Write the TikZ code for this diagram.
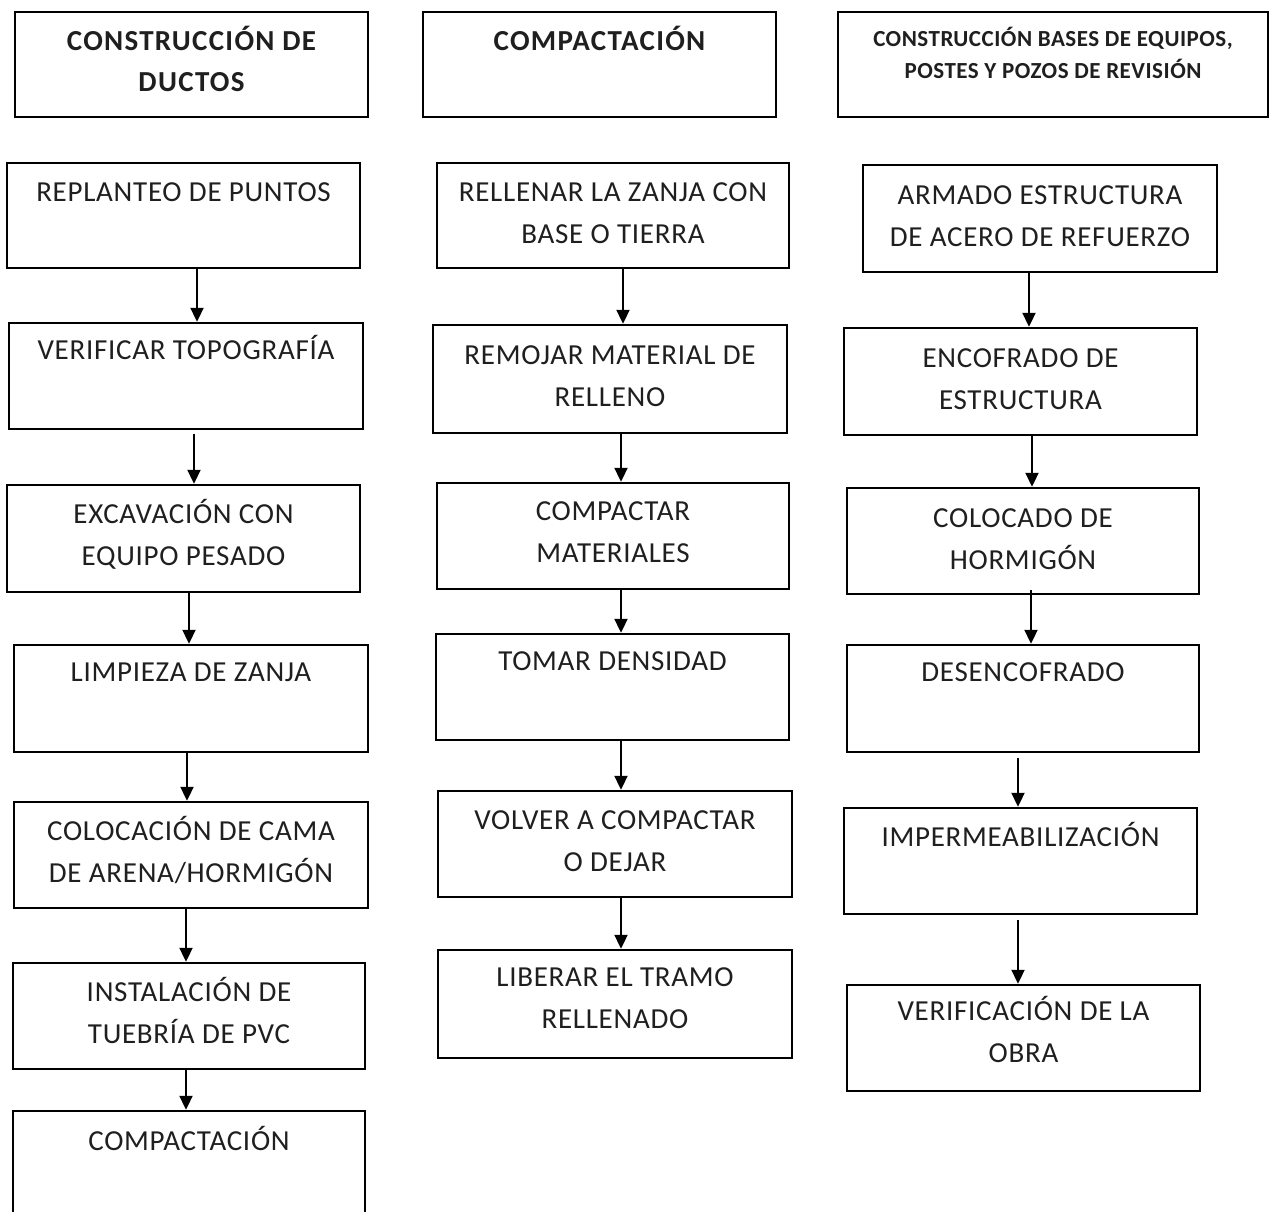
\documentclass[tikz,border=0pt]{standalone}
\usepackage{fontspec}
\setmainfont{Carlito}
\newfontfamily\stepfont{Carlito}[LetterSpace=2.5]
\newfontfamily\titlefont{Carlito}[LetterSpace=4.5]
\newfontfamily\smalltitlefont{Carlito}[LetterSpace=2.2]
\usetikzlibrary{arrows.meta}
\begin{document}
\begin{tikzpicture}[x=1pt,y=-1pt,
  stepbox/.style={draw=black, line width=2.4pt, rectangle, inner sep=0pt},
  boxtext/.style={anchor=base, align=center, inner sep=0pt, text=black!88,
    font=\stepfont\fontsize{29}{42}\selectfont},
  headtext/.style={boxtext, font=\titlefont\fontsize{29}{41}\selectfont\bfseries},
  smallhead/.style={boxtext, font=\smalltitlefont\fontsize{23}{32}\selectfont\bfseries},
  flow/.style={line width=2pt, -{Triangle[width=13pt,length=14pt]}}]
\useasboundingbox[fill=white] (0,0) rectangle (1269,1212);

% ---------- column 1: ductos ----------
\node[stepbox, minimum width=353, minimum height=105] (h1) at (191.5,64.5) {};
\node[headtext] at ([shift={(0,81)}]h1.north) {CONSTRUCCIÓN DE\\DUCTOS};
\node[stepbox, minimum width=353, minimum height=105] (a1) at (183.5,215.5) {};
\node[boxtext] at ([shift={(0,40)}]a1.north) {REPLANTEO DE PUNTOS};
\node[stepbox, minimum width=354, minimum height=106] (a2) at (186,376) {};
\node[boxtext] at ([shift={(0,38)}]a2.north) {VERIFICAR TOPOGRAFÍA};
\node[stepbox, minimum width=353, minimum height=107] (a3) at (183.5,538.5) {};
\node[boxtext] at ([shift={(0,82)}]a3.north) {EXCAVACIÓN CON\\EQUIPO PESADO};
\node[stepbox, minimum width=354, minimum height=107] (a4) at (191,698.5) {};
\node[boxtext] at ([shift={(0,38)}]a4.north) {LIMPIEZA DE ZANJA};
\node[stepbox, minimum width=354, minimum height=106] (a5) at (191,855) {};
\node[boxtext] at ([shift={(0,82)}]a5.north) {COLOCACIÓN DE CAMA\\DE ARENA/HORMIGÓN};
\node[stepbox, minimum width=352, minimum height=106] (a6) at (189,1016) {};
\node[boxtext] at ([shift={(0,82)}]a6.north) {INSTALACIÓN DE\\TUEBRÍA DE PVC};
\node[stepbox, minimum width=352, minimum height=107] (a7) at (189,1164.5) {};
\node[boxtext] at ([shift={(0,41)}]a7.north) {COMPACTACIÓN};

\draw[flow] ([shift={(13.5,0)}]a1.south) -- ([shift={(11,0)}]a2.north);
\draw[flow] ([shift={(8,4)}]a2.south) -- ([shift={(10.5,0)}]a3.north);
\draw[flow] ([shift={(5.5,0)}]a3.south) -- ([shift={(-2,0)}]a4.north);
\draw[flow] ([shift={(-4,0)}]a4.south) -- ([shift={(-4,0)}]a5.north);
\draw[flow] ([shift={(-5,0)}]a5.south) -- ([shift={(-3,0)}]a6.north);
\draw[flow] ([shift={(-3,0)}]a6.south) -- ([shift={(-3,0)}]a7.north);

% ---------- column 2: compactación ----------
\node[stepbox, minimum width=353, minimum height=105] (h2) at (599.5,64.5) {};
\node[headtext] at ([shift={(0,40)}]h2.north) {COMPACTACIÓN};
\node[stepbox, minimum width=352, minimum height=105] (b1) at (613,215.5) {};
\node[boxtext] at ([shift={(0,82)}]b1.north) {RELLENAR LA ZANJA CON\\BASE O TIERRA};
\node[stepbox, minimum width=354, minimum height=108] (b2) at (610,379) {};
\node[boxtext] at ([shift={(0,83)}]b2.north) {REMOJAR MATERIAL DE\\RELLENO};
\node[stepbox, minimum width=352, minimum height=106] (b3) at (613,536) {};
\node[boxtext] at ([shift={(0,81)}]b3.north) {COMPACTAR\\MATERIALES};
\node[stepbox, minimum width=353, minimum height=106] (b4) at (612.5,687) {};
\node[boxtext] at ([shift={(0,38)}]b4.north) {TOMAR DENSIDAD};
\node[stepbox, minimum width=354, minimum height=106] (b5) at (615,844) {};
\node[boxtext] at ([shift={(0,82)}]b5.north) {VOLVER A COMPACTAR\\O DEJAR};
\node[stepbox, minimum width=354, minimum height=108] (b6) at (615,1004) {};
\node[boxtext] at ([shift={(0,80)}]b6.north) {LIBERAR EL TRAMO\\RELLENADO};

\draw[flow] ([shift={(10,0)}]b1.south) -- ([shift={(13,0)}]b2.north);
\draw[flow] ([shift={(11,0)}]b2.south) -- ([shift={(8,0)}]b3.north);
\draw[flow] ([shift={(8,0)}]b3.south) -- ([shift={(8.5,0)}]b4.north);
\draw[flow] ([shift={(8.5,0)}]b4.south) -- ([shift={(6,0)}]b5.north);
\draw[flow] ([shift={(6,0)}]b5.south) -- ([shift={(6,0)}]b6.north);

% ---------- column 3: bases, postes y pozos ----------
\node[stepbox, minimum width=430, minimum height=105] (h3) at (1053,64.5) {};
\node[smallhead] at ([shift={(0,68)}]h3.north) {CONSTRUCCIÓN BASES DE EQUIPOS,\\POSTES Y POZOS DE REVISIÓN};
\node[stepbox, minimum width=354, minimum height=107] (c1) at (1040,218.5) {};
\node[boxtext] at ([shift={(0,83)}]c1.north) {ARMADO ESTRUCTURA\\DE ACERO DE REFUERZO};
\node[stepbox, minimum width=353, minimum height=107] (c2) at (1020.5,381.5) {};
\node[boxtext] at ([shift={(0,83)}]c2.north) {ENCOFRADO DE\\ESTRUCTURA};
\node[stepbox, minimum width=352, minimum height=106] (c3) at (1023,541) {};
\node[boxtext] at ([shift={(0,82.5)}]c3.north) {COLOCADO DE\\HORMIGÓN};
\node[stepbox, minimum width=352, minimum height=107] (c4) at (1023,698.5) {};
\node[boxtext] at ([shift={(0,38)}]c4.north) {DESENCOFRADO};
\node[stepbox, minimum width=353, minimum height=106] (c5) at (1020.5,861) {};
\node[boxtext] at ([shift={(0,40)}]c5.north) {IMPERMEABILIZACIÓN};
\node[stepbox, minimum width=353, minimum height=106] (c6) at (1023.5,1038) {};
\node[boxtext] at ([shift={(0,79)}]c6.north) {VERIFICACIÓN DE LA\\OBRA};

\draw[flow] ([shift={(-11,0)}]c1.south) -- ([shift={(8.5,0)}]c2.north);
\draw[flow] ([shift={(11.5,0)}]c2.south) -- ([shift={(9,0)}]c3.north);
\draw[flow] ([shift={(8,-5)}]c3.south) -- ([shift={(8,0)}]c4.north);
\draw[flow] ([shift={(-5,5)}]c4.south) -- ([shift={(-2.5,0)}]c5.north);
\draw[flow] ([shift={(-2.5,5)}]c5.south) -- ([shift={(-5.5,0)}]c6.north);
\end{tikzpicture}
\end{document}
